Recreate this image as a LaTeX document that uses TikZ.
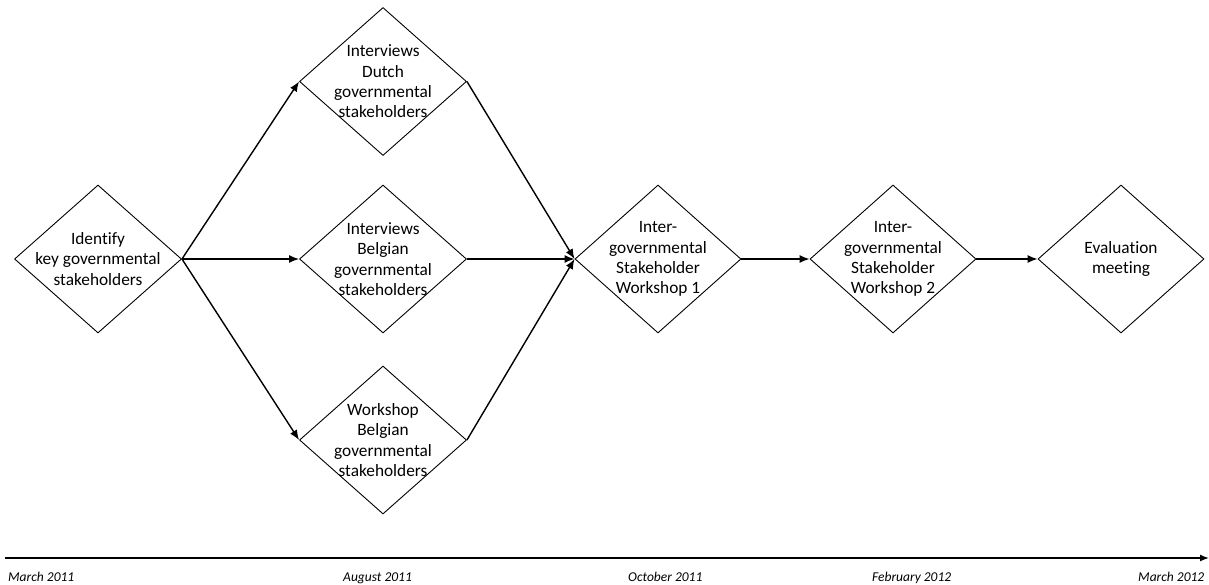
\documentclass[tikz,border=0pt]{standalone}
\usepackage{fontspec}
\setmainfont[Ligatures=CommonOff]{Carlito}
\usetikzlibrary{shapes.geometric,arrows.meta}
\tikzset{
  dia/.style={shape=diamond,draw,line width=0.9pt,inner sep=0pt,minimum width=167pt,minimum height=148pt},
  diasm/.style={dia,minimum width=166pt},
  lbl/.style={align=center,font=\fontsize{17.3}{20.3}\selectfont,inner sep=0pt},
  flow/.style={line width=1.4pt,-{Latex[length=10pt,width=8pt]}},
  date/.style={anchor=base west,font=\fontsize{13.5}{16}\selectfont\itshape,inner sep=0pt}
}
\begin{document}
\begin{tikzpicture}[x=1pt,y=-1pt]
\useasboundingbox (0,0) rectangle (1209,585);
\node[dia] (id) at (98,259) {};
\node[lbl] (idt) at (id.center) {Identify\\key governmental\\stakeholders};
\node[dia] (du) at (383,81.5) {};
\node[lbl] (dut) at (du.center) {Interviews\\Dutch\\governmental\\stakeholders};
\node[dia] (bi) at (383,259) {};
\node[lbl] (bit) at (bi.center) {Interviews\\Belgian\\governmental\\stakeholders};
\node[dia] (bw) at (383,440) {};
\node[lbl] (bwt) at (bw.center) {Workshop\\Belgian\\governmental\\stakeholders};
\node[diasm] (w1) at (658,259) {};
\node[lbl] (w1t) at (w1.center) {Inter-\\governmental\\Stakeholder\\Workshop 1};
\node[diasm] (w2) at (893,259) {};
\node[lbl] (w2t) at (w2.center) {Inter-\\governmental\\Stakeholder\\Workshop 2};
\node[diasm] (ev) at (1121,259) {};
\node[lbl] (evt) at (ev.center) {Evaluation\\meeting};
\draw[flow] (id.east) -- (du.west);
\draw[flow] (id.east) -- (bi.west);
\draw[flow] (id.east) -- (bw.west);
\draw[flow] (du.east) -- (w1.west);
\draw[flow] (bi.east) -- (w1.west);
\draw[flow] (bw.east) -- (w1.west);
\draw[flow] (w1.east) -- (w2.west);
\draw[flow] (w2.east) -- (ev.west);
\coordinate (t0) at (5,558);
\coordinate (t1) at (1209,558);
\draw[line width=1.4pt,-{Latex[length=9pt,width=7pt]}] (t0) -- (t1);
\node[date] (d1) at (8,581) {March 2011};
\node[date] (d2) at (343,581) {August 2011};
\node[date] (d3) at (628,581) {October 2011};
\node[date] (d4) at (872,581) {February 2012};
\node[date] (d5) at (1138,581) {March 2012};
\end{tikzpicture}
\end{document}
